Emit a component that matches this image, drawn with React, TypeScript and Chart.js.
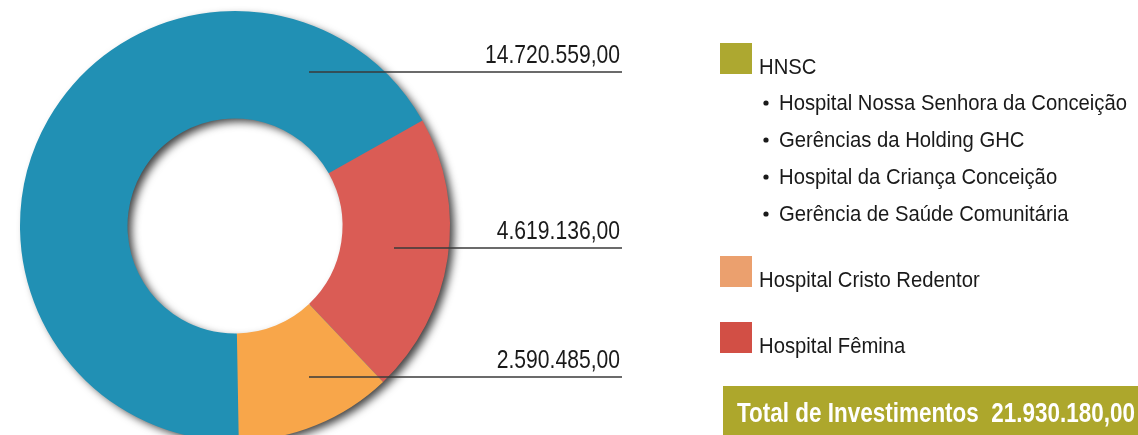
import React, { useEffect, useRef } from "react";
import { Chart, registerables } from "chart.js";

Chart.register(...registerables);

const categories = ["HNSC", "Hospital Fêmina", "Hospital Cristo Redentor"];
const values = [14720559, 4619136, 2590485];
const valueLabels = ["14.720.559,00", "4.619.136,00", "2.590.485,00"];
const sliceColors = ["#2190b4", "#da5c55", "#f8a64a"];

const legendGroups = ["HNSC", "Hospital Cristo Redentor", "Hospital Fêmina"];
const legendColors = ["#ada830", "#eba06e", "#d24f45"];
const hnscUnits = [
  "Hospital Nossa Senhora da Conceição",
  "Gerências da Holding GHC",
  "Hospital da Criança Conceição",
  "Gerência de Saúde Comunitária",
];
const totalLabel = "Total de Investimentos";
const totalValue = "21.930.180,00";

const FONT = "'Liberation Sans', Arial, sans-serif";

function drawNarrow(ctx: CanvasRenderingContext2D, text: string, x: number, y: number, sx: number, align: "left" | "right") {
  const w = ctx.measureText(text).width * sx;
  const left = align === "right" ? x - w : x;
  ctx.save();
  ctx.textAlign = "left";
  ctx.translate(left, y);
  ctx.scale(sx, 1);
  ctx.fillText(text, 0, 0);
  ctx.restore();
  return w;
}

const shadowPlugin = {
  id: "ringShadow",
  beforeDatasetsDraw(chart: any) {
    const meta = chart.getDatasetMeta(0);
    const arc = meta.data[0];
    if (!arc) return;
    const { x, y, outerRadius, innerRadius } = arc.getProps(["x", "y", "outerRadius", "innerRadius"], true);
    const ctx = chart.ctx;
    ctx.save();
    ctx.shadowColor = "rgba(0,0,0,0.75)";
    ctx.shadowBlur = 9;
    ctx.shadowOffsetX = 5;
    ctx.shadowOffsetY = 4;
    ctx.beginPath();
    ctx.arc(x, y, outerRadius - 1, 0, Math.PI * 2, false);
    ctx.arc(x, y, innerRadius + 1, 0, Math.PI * 2, true);
    ctx.closePath();
    ctx.fillStyle = "#2190b4";
    ctx.fill();
    ctx.restore();
  },
};

const annotationPlugin = {
  id: "annotations",
  afterDraw(chart: any) {
    const ctx: CanvasRenderingContext2D = chart.ctx;
    const meta = chart.getDatasetMeta(0);
    const arc = meta.data[0];
    const cx = arc.x;
    const cy = arc.y;
    ctx.save();
    ctx.textBaseline = "alphabetic";

    // value labels: condensed look
    ctx.font = `25px ${FONT}`;
    const sxVal = 135 / ctx.measureText(valueLabels[0]).width;
    const lineYs = [cy - 154, cy + 22, cy + 151];
    const lineStarts = [cx + 74, cx + 159, cx + 74];
    for (let i = 0; i < valueLabels.length; i++) {
      ctx.beginPath();
      ctx.strokeStyle = "#3a3a3a";
      ctx.lineWidth = 1.5;
      ctx.moveTo(lineStarts[i], lineYs[i]);
      ctx.lineTo(622, lineYs[i]);
      ctx.stroke();
      ctx.fillStyle = "#1a1a1a";
      drawNarrow(ctx, valueLabels[i], 620, lineYs[i] - 9, sxVal, "right");
    }

    // legend
    ctx.font = `22px ${FONT}`;
    const sxLeg = 348 / ctx.measureText(hnscUnits[0]).width;
    const groupTops = [43, 256, 322];
    for (let i = 0; i < legendGroups.length; i++) {
      ctx.fillStyle = legendColors[i];
      ctx.fillRect(720, groupTops[i], 32, 31);
      ctx.fillStyle = "#1a1a1a";
      drawNarrow(ctx, legendGroups[i], 759, groupTops[i] + 31, sxLeg, "left");
    }
    for (let j = 0; j < hnscUnits.length; j++) {
      const by = 110 + j * 37;
      ctx.fillStyle = "#1a1a1a";
      ctx.beginPath();
      ctx.arc(766, by - 7, 2.6, 0, Math.PI * 2);
      ctx.fill();
      drawNarrow(ctx, hnscUnits[j], 779, by, sxLeg, "left");
    }

    // total box
    ctx.fillStyle = "#ada72c";
    ctx.fillRect(723, 386, 1138 - 723, 60);
    ctx.fillStyle = "#ffffff";
    ctx.font = `bold 27px ${FONT}`;
    const full = totalLabel + "  " + totalValue;
    const sxTot = 398 / ctx.measureText(full).width;
    drawNarrow(ctx, full, 737, 422, sxTot, "left");
    ctx.restore();
  },
};

export default function App() {
  const canvasRef = useRef<HTMLCanvasElement | null>(null);
  useEffect(() => {
    if (!canvasRef.current) return;
    const chart = new Chart(canvasRef.current, {
      type: "doughnut",
      data: {
        labels: categories,
        datasets: [
          {
            data: values,
            backgroundColor: sliceColors,
            borderWidth: 0,
            hoverOffset: 0,
          },
        ],
      },
      options: {
        responsive: false,
        animation: false,
        events: [],
        rotation: 179,
        cutout: "50%",
        layout: { padding: { left: 20, top: 11, right: 688, bottom: 11 } },
        plugins: { legend: { display: false }, tooltip: { enabled: false } },
      },
      plugins: [shadowPlugin, annotationPlugin],
    });
    return () => chart.destroy();
  }, []);
  return (
    <div style={{ position: "fixed", left: 0, top: 0, width: 1138, height: 435, overflow: "hidden", background: "#fff" }}>
      <canvas ref={canvasRef} width={1138} height={452} style={{ display: "block" }} />
    </div>
  );
}
